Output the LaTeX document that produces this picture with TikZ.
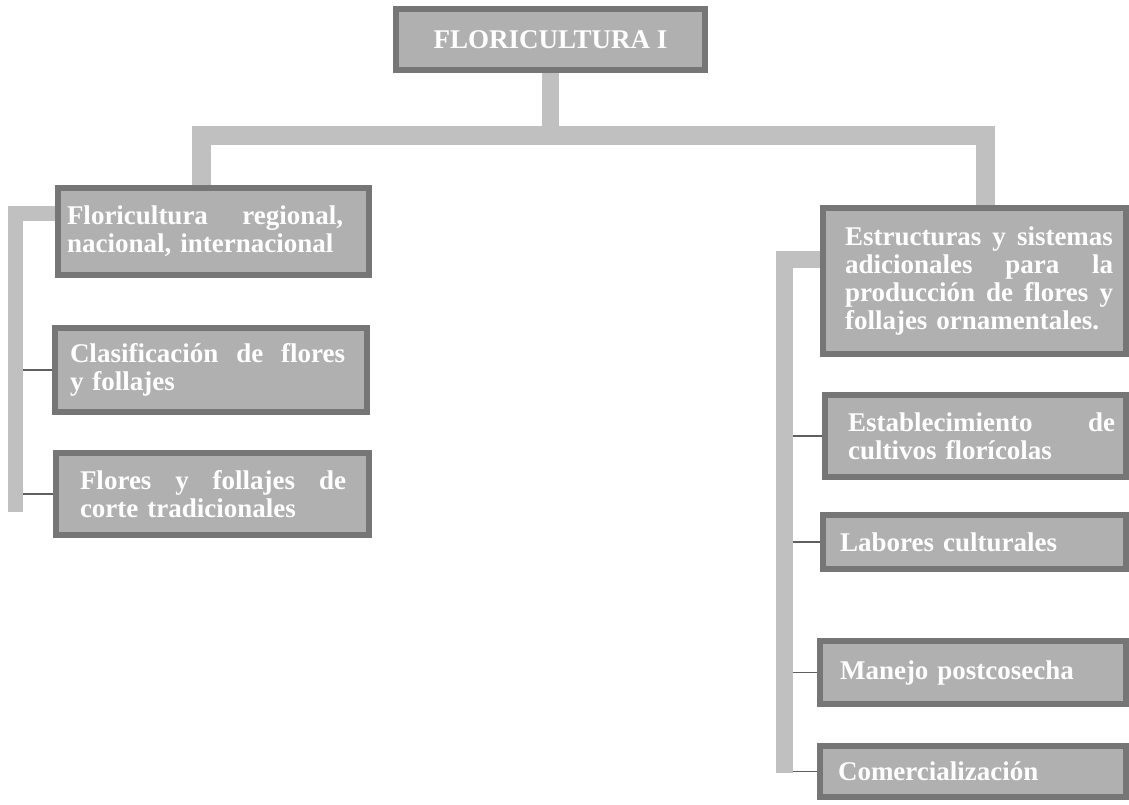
\documentclass[tikz,border=0pt]{standalone}
\usepackage{fontspec}
\setmainfont{Liberation Serif}
\usetikzlibrary{shadows}
\definecolor{boxfill}{RGB}{176,176,176}
\definecolor{boxline}{RGB}{118,118,118}
\definecolor{barcol}{RGB}{192,192,192}
\definecolor{thincol}{RGB}{95,95,95}
\newcommand{\jusline}[2]{\leavevmode\hbox to #1{#2}}
\begin{document}
\begin{tikzpicture}[x=1pt,y=-1pt,
  box/.style={draw=boxline, fill=boxfill, line width=6pt, inner sep=0pt,
    text=white, font=\bfseries\fontsize{27}{28}\selectfont, align=left,
    drop shadow={shadow xshift=2pt, shadow yshift=-3pt, fill=black!12, opacity=1}},
  bar/.style={draw=barcol, line width=17pt, line join=miter},
  twig/.style={draw=thincol, line width=1.6pt}]
\useasboundingbox[fill=white] (0,0) rectangle (1129,804);

% boxes
\node[box, align=center, minimum width=309pt, minimum height=61pt] (top) at (550.5,39.5) {FLORICULTURA I};

\node[box, text width=293pt, minimum width=311pt, minimum height=87pt] (L1) at (213.5,231.5)
  {\jusline{276pt}{Floricultura\hfill regional,}\\nacional, internacional};
\node[box, text width=282pt, minimum width=312pt, minimum height=84pt] (L2) at (211,370)
  {\jusline{275pt}{Clasificación\hfill de\hfill flores}\\y follajes};
\node[box, text width=265pt, minimum width=313pt, minimum height=82pt] (L3) at (212.5,494)
  {\jusline{266pt}{Flores\hfill y\hfill follajes\hfill de}\\corte tradicionales};

\node[box, text width=259pt, minimum width=303pt, minimum height=146pt] (R1) at (974.5,281)
  {\jusline{268pt}{Estructuras\hfill y\hfill sistemas}\\\jusline{268pt}{adicionales\hfill para\hfill la}\\\jusline{268pt}{producción\hfill de\hfill flores\hfill y}\\follajes ornamentales.};
\node[box, text width=255pt, minimum width=301pt, minimum height=82pt] (R2) at (975.5,436)
  {\jusline{267pt}{Establecimiento\hfill de}\\cultivos florícolas};
\node[box, text width=269pt, minimum width=303pt, minimum height=54pt] (R3) at (974.5,542)
  {Labores culturales};
\node[box, text width=266pt, minimum width=306pt, minimum height=63pt] (R4) at (973,672.5)
  {Manejo postcosecha};
\node[box, text width=270pt, minimum width=306pt, minimum height=51pt] (R5) at (973,771.5)
  {Comercialización};

% coordinates of the gray bars
\coordinate (hl) at (201,135);
\coordinate (hr) at (985,135);
\coordinate (lt) at (15,213);
\coordinate (ltb) at (15,512);
\coordinate (rt) at (784,259);
\coordinate (rtb) at (784,773);

% thin branches
\draw[twig] (L2.west) -- (L2.west -| lt);
\draw[twig] (L3.west) -- (L3.west -| lt);
\draw[twig] (R2.west) -- (R2.west -| rt);
\draw[twig] (R3.west) -- (R3.west -| rt);
\draw[twig] (R4.west) -- (R4.west -| rt);
\draw[twig] (R5.west) -- (R5.west -| rt);

% thick gray bars
\draw[bar] (top.south) -- (top.south |- hl);
\draw[bar, line width=19pt] (hl |- L1.north) -- (hl) -- (hr) -- (hr |- R1.north);
\draw[bar, line width=15pt] (L1.west |- lt) -- (lt) -- (ltb);
\draw[bar] (R1.west |- rt) -- (rt) -- (rtb);
\end{tikzpicture}
\end{document}
